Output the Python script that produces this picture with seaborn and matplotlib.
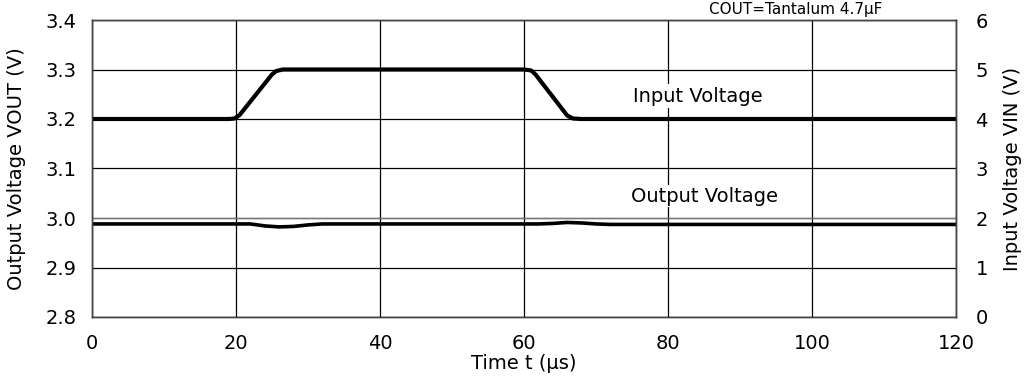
import numpy as np
import matplotlib
matplotlib.use("Agg")
import matplotlib.pyplot as plt
import seaborn as sns
import pandas as pd

sns.set_style("white")
plt.rcParams['font.family'] = ['DejaVu Sans']
plt.rcParams['text.color'] = 'black'
plt.rcParams['axes.labelcolor'] = 'black'

# input voltage trace (right axis)
t_in = [0, 19, 19.8, 20.5, 25, 25.6, 26.5, 60, 61, 61.6, 66, 66.8, 68, 120]
v_in = [4.0, 4.0, 4.01, 4.08, 4.9, 4.97, 5.0, 5.0, 4.98, 4.9, 4.07, 4.01, 4.0, 4.0]

# output voltage trace (left axis)
t_out = [0, 20, 22, 24, 26, 28, 30, 32, 60, 62, 64, 66, 68, 70, 72, 74, 120]
v_out = [2.988, 2.988, 2.988, 2.984, 2.982, 2.983, 2.986, 2.988, 2.988, 2.988,
         2.989, 2.991, 2.990, 2.988, 2.987, 2.987, 2.987]

x_ticks = [0, 20, 40, 60, 80, 100, 120]
left_ticks = [2.8, 2.9, 3.0, 3.1, 3.2, 3.3, 3.4]
right_ticks = [0, 1, 2, 3, 4, 5, 6]

fig = plt.figure(figsize=(10.29, 3.79), dpi=100)
ax = fig.add_axes([92 / 1029, 1 - 317 / 379, (956 - 92) / 1029, (317 - 20) / 379])
ax2 = ax.twinx()

df_out = pd.DataFrame({'t': t_out, 'v': v_out})
df_in = pd.DataFrame({'t': t_in, 'v': v_in})

sns.lineplot(data=df_out, x='t', y='v', ax=ax, color='black', linewidth=2.6)
sns.lineplot(data=df_in, x='t', y='v', ax=ax2, color='black', linewidth=3)

ax.set_xlim(0, 120)
ax.set_ylim(2.8, 3.4)
ax2.set_ylim(0, 6)
ax.set_xticks(x_ticks)
ax.set_yticks(left_ticks)
ax.set_yticklabels([f"{v:.1f}" for v in left_ticks])
ax2.set_yticks(right_ticks)

ax.grid(True, color='black', linewidth=0.9)
ax2.grid(False)
ax.axhline(3.0, color='#777777', linewidth=0.9)
for a in (ax, ax2):
    a.tick_params(length=0, labelsize=14, colors='black')
    for s in a.spines.values():
        s.set_color('#444444')
        s.set_linewidth(1.0)
ax.tick_params(axis='y', pad=11)
ax2.tick_params(axis='y', pad=14)
ax.tick_params(axis='x', pad=12)

ax.set_xlabel("Time t (µs)", fontsize=14, labelpad=1)
ax.set_ylabel("Output Voltage VOUT (V)", fontsize=14, labelpad=14)
ax2.set_ylabel("Input Voltage VIN (V)", fontsize=14, labelpad=11)

ax2.text(75.2, 4.46, "Input Voltage", fontsize=14, va='center', ha='left',
         bbox=dict(facecolor='white', edgecolor='none', pad=2))
ax2.text(74.8, 2.44, "Output Voltage", fontsize=14, va='center', ha='left',
         bbox=dict(facecolor='white', edgecolor='none', pad=1))

fig.text(882 / 1029, 1 - 14 / 379, "COUT=Tantalum 4.7µF", fontsize=11,
         va='baseline', ha='right')

fig.savefig("out.png", dpi=100)
